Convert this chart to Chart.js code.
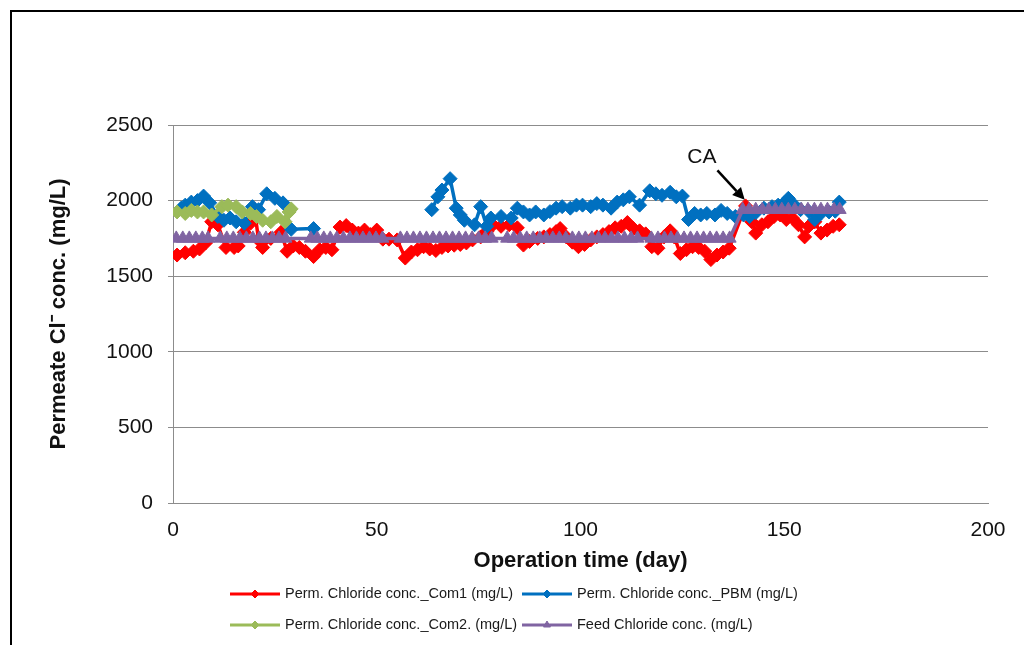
<!DOCTYPE html>
<html>
<head>
<meta charset="utf-8">
<script src="https://cdn.jsdelivr.net/npm/chart.js@4.4.1/dist/chart.umd.min.js"></script>
<style>
  html, body { margin: 0; padding: 0; background: #fff; }
  canvas { display: block; }
</style>
</head>
<body>
<canvas id="chart" width="1024" height="645"></canvas>
<script>
// Permeate chloride, membrane Com1
const com1Days = [1, 3, 5, 6.5, 8, 9.5, 11, 13, 15, 16, 17.5, 19, 20, 21, 22, 24, 26.5, 28, 29.5, 31,
  32.5, 34.5, 36, 37.5, 39, 41, 42.5, 44, 45.5, 47, 48.5, 50, 51.5, 53, 55, 57, 58.5, 60, 61.5, 63,
  64.5, 66, 67.5, 69, 70.5, 72, 73.5, 75.5, 77, 78.5, 80.5, 82.5, 84.5, 86, 87.5, 89.5, 91, 92.5, 94, 95,
  96.5, 98, 99.5, 101, 102.5, 104, 105.5, 107, 108.5, 110, 111.5, 113, 114.5, 116, 117.5, 119, 120.5, 122, 123, 124.5,
  126, 127.5, 129, 130.5, 132, 133.5, 135, 136.5, 140.5, 142, 143, 144.5, 146, 147.5, 149, 150.5, 152, 153.5,
  155, 156, 157.5, 159, 160.5, 162, 163.5];
const com1Values = [1640, 1655, 1665, 1680, 1720, 1860, 1840, 1690, 1690, 1700, 1790, 1850, 1940, 1740, 1690, 1750, 1790, 1665, 1700, 1690,
  1665, 1630, 1675, 1690, 1675, 1825, 1835, 1805, 1785, 1805, 1775, 1805, 1745, 1745, 1740, 1620, 1660, 1675, 1695, 1680,
  1670, 1690, 1700, 1705, 1710, 1720, 1740, 1760, 1795, 1840, 1830, 1840, 1820, 1706, 1730, 1750, 1760, 1775, 1795, 1815,
  1760, 1725, 1695, 1710, 1740, 1760, 1775, 1795, 1820, 1830, 1855, 1815, 1800, 1780, 1695, 1685, 1760, 1800, 1760, 1650,
  1675, 1695, 1690, 1665, 1610, 1640, 1660, 1685, 1965, 1860, 1785, 1840, 1860, 1895, 1905, 1875, 1885, 1840,
  1760, 1830, 1860, 1785, 1805, 1830, 1840];

// Permeate chloride, PBM membrane (null = no measurements)
const pbmDays = [2, 3, 4.5, 6, 7.5, 9, 11, 12.5, 14, 15.5, 17.5, 19.5, 21, 23, 25, 27, 29, 34.5, 49,
  63.5, 65, 66, 68, 69.5, 70.5, 71.5, 74, 75.5, 77, 78, 80.5, 83, 84.5, 86, 87.5, 89, 91, 92.5, 94,
  95.5, 97.5, 99, 100.5, 102.5, 104, 105.5, 107.5, 109, 110.5, 112, 114.5, 117, 118.5, 120, 122, 123.5, 125,
  126.5, 128, 129.5, 131, 133, 134.5, 136, 138, 140, 141.5, 143, 145, 147, 148.5, 150, 151, 152.5, 154,
  156, 157.5, 159, 161, 162.5, 163.5];
const pbmValues = [1950, 1970, 1990, 2000, 2030, 1985, 1895, 1870, 1885, 1860, 1850, 1960, 1940, 2045, 2015, 1985, 1810, 1815, null,
  1940, 2025, 2070, 2145, 1950, 1905, 1870, 1840, 1960, 1830, 1885, 1895, 1885, 1950, 1925, 1905, 1925, 1905, 1927, 1950,
  1960, 1950, 1970, 1970, 1960, 1980, 1970, 1950, 1990, 2005, 2025, 1970, 2065, 2045, 2035, 2055, 2025, 2030,
  1875, 1915, 1905, 1915, 1905, 1935, 1915, 1895, 1905, 1895, 1920, 1950, 1960, 1970, 1985, 2015, 1970, 1940,
  1930, 1875, 1915, 1925, 1930, 1990];

// Permeate chloride, membrane Com2
const com2Days = [1, 3, 4.5, 6, 7.5, 9.5, 12, 13.5, 15.5, 17, 19, 20.5, 22, 24, 25.5, 27.5, 28.5, 29];
const com2Values = [1925, 1915, 1935, 1925, 1925, 1905, 1960, 1970, 1960, 1925, 1915, 1895, 1870, 1860, 1895, 1860, 1925, 1945];

// Feed chloride
const feedDays = [0.8, 2.4, 4, 5.6, 7.2, 8.6,
  11.6, 13.2, 14.8, 16.4, 18, 19.6, 21.2, 22.8, 24.4, 26, 27.6,
  33.8, 35.4, 37, 38.6, 40.2, 41.8, 43.4, 45, 46.6, 48.2, 49.8, 51.4,
  55.8, 57.4, 59, 60.6, 62.2, 63.8, 65.4, 67, 68.6, 70.2, 71.8, 73.4, 75, 76.6, 78.2,
  82, 83.6, 85.2, 86.8, 88.4, 90, 91.6, 93.2, 94.8, 96.4, 98, 99.6, 101.2, 102.8, 104.4, 106, 107.6, 109.2, 110.8, 112.4, 114,
  117.4, 119, 120.6, 122.2, 123.8, 125.4, 127, 128.6, 130.2, 131.8, 133.4, 135, 136.6,
  139.8, 141.4, 143, 144.6, 146.2, 147.8, 149.4, 151, 152.6, 154.2, 155.8, 157.4, 159, 160.6, 162.2, 163.6];
const feedValues = [1750, 1750, 1750, 1750, 1750, 1750,
  1750, 1750, 1750, 1750, 1750, 1750, 1750, 1750, 1750, 1750, 1750,
  1750, 1750, 1750, 1750, 1750, 1750, 1750, 1750, 1750, 1750, 1750, 1750,
  1750, 1750, 1750, 1750, 1750, 1750, 1750, 1750, 1750, 1750, 1750, 1750, 1750, 1750, 1750,
  1750, 1750, 1750, 1750, 1750, 1750, 1750, 1750, 1750, 1750, 1750, 1750, 1750, 1750, 1750, 1750, 1750, 1750, 1750, 1750, 1750,
  1750, 1750, 1750, 1750, 1750, 1750, 1750, 1750, 1750, 1750, 1750, 1750, 1750,
  1940, 1940, 1940, 1940, 1940, 1940, 1940, 1940, 1940, 1940, 1940, 1940, 1940, 1940, 1940, 1940];

const xTickValues = [0, 50, 100, 150, 200];
const yTickValues = [0, 500, 1000, 1500, 2000, 2500];

const seriesLabels = [
  'Perm. Chloride conc._Com1 (mg/L)',
  'Perm. Chloride conc._PBM (mg/L)',
  'Perm. Chloride conc._Com2. (mg/L)',
  'Feed Chloride conc. (mg/L)'
];

// "CA" note and its arrow, in data units (day, mg/L)
const noteText = 'CA';
const noteAt = { x: 129.8, y: 2285 };
const arrowFrom = { x: 133.6, y: 2200 };
const arrowTo = { x: 140.3, y: 2005 };

const RED = '#ff0000';
const BLUE = '#0070c0';
const GREEN = '#9bbb59';
const PURPLE = '#8064a2';
const FONT = '"Liberation Sans", Arial, Helvetica, sans-serif';

function pairs(days, values) {
  return days.map((d, i) => ({ x: d, y: values[i] }));
}

function series(label, days, values, color, style, radius, order) {
  return {
    label,
    data: pairs(days, values),
    borderColor: color,
    backgroundColor: color,
    borderWidth: 3.5,
    pointStyle: style,
    pointRadius: radius,
    pointBorderWidth: 1,
    pointBorderColor: color,
    pointBackgroundColor: color,
    tension: 0,
    spanGaps: false,
    order
  };
}

const frame = {
  id: 'frame',
  beforeDraw(chart) {
    const ctx = chart.ctx;
    ctx.save();
    ctx.fillStyle = '#ffffff';
    ctx.fillRect(0, 0, chart.width, chart.height);
    ctx.strokeStyle = '#000000';
    ctx.lineWidth = 2;
    ctx.strokeRect(11, 11, chart.width + 40, chart.height + 40);
    ctx.restore();
  }
};

const note = {
  id: 'note',
  afterDatasetsDraw(chart) {
    const { ctx, scales: { x, y } } = chart;
    const tx = x.getPixelForValue(noteAt.x), ty = y.getPixelForValue(noteAt.y);
    const x1 = x.getPixelForValue(arrowFrom.x), y1 = y.getPixelForValue(arrowFrom.y);
    const x2 = x.getPixelForValue(arrowTo.x), y2 = y.getPixelForValue(arrowTo.y);
    ctx.save();
    ctx.fillStyle = '#111';
    ctx.font = '21px ' + FONT;
    ctx.textAlign = 'center';
    ctx.textBaseline = 'middle';
    ctx.fillText(noteText, tx, ty);
    const ang = Math.atan2(y2 - y1, x2 - x1);
    const head = 12;
    const bx = x2 - head * Math.cos(ang), by = y2 - head * Math.sin(ang);
    ctx.strokeStyle = '#000';
    ctx.lineWidth = 2.5;
    ctx.beginPath();
    ctx.moveTo(x1, y1);
    ctx.lineTo(bx, by);
    ctx.stroke();
    ctx.beginPath();
    ctx.moveTo(x2, y2);
    ctx.lineTo(bx + 6 * Math.sin(ang), by - 6 * Math.cos(ang));
    ctx.lineTo(bx - 6 * Math.sin(ang), by + 6 * Math.cos(ang));
    ctx.closePath();
    ctx.fillStyle = '#000';
    ctx.fill();
    ctx.restore();
  }
};

// Two-row legend below the x-axis title
const legendRows = {
  id: 'legendRows',
  afterDraw(chart) {
    const ctx = chart.ctx;
    const sets = chart.data.datasets;
    const slots = [
      { x: 230, y: 594 }, { x: 522, y: 594 },
      { x: 230, y: 625 }, { x: 522, y: 625 }
    ];
    ctx.save();
    sets.forEach((ds, i) => {
      const s = slots[i];
      ctx.strokeStyle = ds.borderColor;
      ctx.fillStyle = ds.borderColor;
      ctx.lineWidth = 3;
      ctx.beginPath();
      ctx.moveTo(s.x, s.y);
      ctx.lineTo(s.x + 50, s.y);
      ctx.stroke();
      ctx.lineWidth = 1;
      Chart.helpers.drawPoint(ctx, { pointStyle: ds.pointStyle, radius: 4, borderWidth: 1, rotation: 0 }, s.x + 25, s.y);
      ctx.fillStyle = '#1a1a1a';
      ctx.font = '14.5px ' + FONT;
      ctx.textAlign = 'left';
      ctx.textBaseline = 'middle';
      ctx.fillText(ds.label, s.x + 55, s.y);
    });
    ctx.restore();
  }
};

const tickText = v => String(v);

new Chart(document.getElementById('chart'), {
  type: 'line',
  data: {
    datasets: [
      series(seriesLabels[0], com1Days, com1Values, RED, 'rectRot', 7, 4),
      series(seriesLabels[1], pbmDays, pbmValues, BLUE, 'rectRot', 7, 3),
      series(seriesLabels[2], com2Days, com2Values, GREEN, 'rectRot', 7, 2),
      series(seriesLabels[3], feedDays, feedValues, PURPLE, 'triangle', 7.5, 1)
    ]
  },
  options: {
    responsive: false,
    animation: false,
    devicePixelRatio: 1,
    layout: { padding: { left: 42, top: 125, right: 36, bottom: 67 } },
    plugins: {
      legend: { display: false },
      tooltip: { enabled: false }
    },
    scales: {
      x: {
        type: 'linear',
        min: 0,
        max: 200,
        afterBuildTicks(scale) { scale.ticks = xTickValues.map(v => ({ value: v })); },
        afterFit(scale) { scale.height = 75; },
        grid: { display: false, drawTicks: false },
        border: { display: true, color: '#8c8c8c', width: 1 },
        ticks: { color: '#111', font: { family: FONT, size: 21 }, padding: 15, maxRotation: 0, callback: tickText },
        title: {
          display: true,
          text: 'Operation time (day)',
          color: '#111',
          font: { family: FONT, size: 22, weight: 'bold' },
          padding: { top: 4, bottom: 4 }
        }
      },
      y: {
        min: 0,
        max: 2500,
        afterBuildTicks(scale) { scale.ticks = yTickValues.map(v => ({ value: v })); },
        afterFit(scale) { scale.width = 131; },
        grid: { color: '#8c8c8c', lineWidth: 1, drawTicks: true, tickLength: 5 },
        border: { display: true, color: '#8c8c8c', width: 1 },
        ticks: { color: '#111', font: { family: FONT, size: 21 }, padding: 15, callback: tickText },
        title: {
          display: true,
          text: 'Permeate Cl⁻ conc. (mg/L)',
          color: '#111',
          font: { family: FONT, size: 22, weight: 'bold' },
          padding: { top: 4, bottom: 4 }
        }
      }
    }
  },
  plugins: [frame, note, legendRows]
});
</script>
</body>
</html>
